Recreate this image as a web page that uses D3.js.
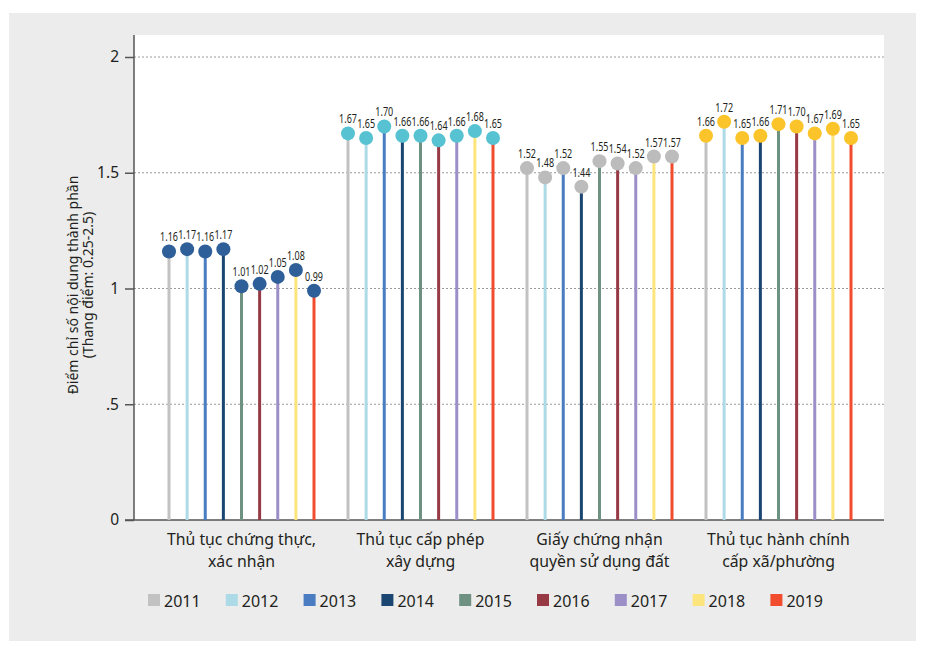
<!DOCTYPE html>
<html><head><meta charset="utf-8">
<script src="https://cdn.jsdelivr.net/npm/d3@7"></script>
<style>
html,body{margin:0;padding:0;background:#fff;}
svg{display:block;}
text{font-family:"Noto Sans","Open Sans",sans-serif;fill:#231f20;}
</style></head>
<body><svg id="c" width="928" height="654"></svg>
<script>
const categories = [
  ["Thủ tục chứng thực,", "xác nhận"],
  ["Thủ tục cấp phép", "xây dựng"],
  ["Giấy chứng nhận", "quyền sử dụng đất"],
  ["Thủ tục hành chính", "cấp xã/phường"]
];
const years = ["2011","2012","2013","2014","2015","2016","2017","2018","2019"];
const values = [
  [1.16,1.17,1.16,1.17,1.01,1.02,1.05,1.08,0.99],
  [1.67,1.65,1.70,1.66,1.66,1.64,1.66,1.68,1.65],
  [1.52,1.48,1.52,1.44,1.55,1.54,1.52,1.57,1.57],
  [1.66,1.72,1.65,1.66,1.71,1.70,1.67,1.69,1.65]
];
const yearColors = ["#c2c2c2","#acdbe7","#4a7cc1","#1c4672","#6e9182","#973a46","#9c8fc8","#fde57d","#f04c2d"];
const dotColors = ["#2f5f98","#57c2d1","#bcbcbc","#fbc42b"];
const yTicks = [0,0.5,1,1.5,2];
const yTickLabels = ["0",".5","1","1.5","2"];
const yTitle = ["Điểm chỉ số nội dung thành phần","(Thang điểm: 0.25-2.5)"];

const svg = d3.select("#c");
const L = 134, R = 884, T = 35, B = 520;

svg.append("rect").attr("x",9).attr("y",13).attr("width",907).attr("height",628).attr("fill","#ececec");
svg.append("rect").attr("x",L).attr("y",T).attr("width",R-L).attr("height",B-T).attr("fill","#fff");

const y = d3.scaleLinear().domain([0,2]).range([B,57]);
const x0 = d3.scaleBand().domain(d3.range(categories.length)).range([152,868]);
const x1 = d3.scalePoint().domain(years).range([-72.5,72.5]);

// grid
svg.append("g").selectAll("line").data(yTicks.filter(d=>d>0)).join("line")
  .attr("x1",L).attr("x2",R).attr("y1",d=>y(d)).attr("y2",d=>y(d))
  .attr("stroke","#9a9a9a").attr("stroke-width",1).attr("stroke-dasharray","2,2");

// y axis
const yAxis = svg.append("g").attr("transform",`translate(${L},0)`)
  .call(d3.axisLeft(y).tickValues(yTicks).tickFormat((d,i)=>yTickLabels[i]).tickSize(9).tickPadding(6));
yAxis.select(".domain").attr("stroke","#555").attr("stroke-width",1.5).attr("d",`M0,${T}V${B}`);
yAxis.selectAll(".tick line").attr("stroke","#555").attr("stroke-width",1.5);
yAxis.selectAll(".tick text").attr("font-size",15.5).attr("fill","#231f20").attr("font-family","Noto Sans");

// x axis line
svg.append("line").attr("x1",125).attr("x2",R).attr("y1",B).attr("y2",B).attr("stroke","#555").attr("stroke-width",1.5);

// groups
const g = svg.append("g").selectAll("g").data(values).join("g")
  .attr("transform",(d,i)=>`translate(${x0(i)+x0.bandwidth()/2},0)`);

g.each(function(vals, gi){
  const gg = d3.select(this);
  const pts = vals.map((v,j)=>({v, yr:years[j], j}));
  gg.selectAll("line.stem").data(pts).join("line").attr("class","stem")
    .attr("x1",d=>x1(d.yr)).attr("x2",d=>x1(d.yr))
    .attr("y1",y(0)).attr("y2",d=>y(d.v))
    .attr("stroke",d=>yearColors[d.j]).attr("stroke-width",3);
  gg.selectAll("circle").data(pts).join("circle")
    .attr("cx",d=>x1(d.yr)).attr("cy",d=>y(d.v)).attr("r",7)
    .attr("fill",dotColors[gi]);
  gg.selectAll("text.val").data(pts).join("text").attr("class","val")
    .attr("transform",d=>`translate(${x1(d.yr)},${y(d.v)-10}) scale(0.72,1)`)
    .attr("text-anchor","middle").attr("font-size",12.5)
    .text(d=>d.v.toFixed(2));
  const lab = gg.append("text").attr("text-anchor","middle").attr("font-size",15.8);
  categories[gi].forEach((line,k)=>{
    lab.append("tspan").attr("x",0).attr("y",545+k*22).text(line);
  });
});

// y title
const yt = svg.append("text").attr("transform","translate(78,285) rotate(-90)")
  .attr("text-anchor","middle").attr("font-size",14);
yTitle.forEach((t,k)=>yt.append("tspan").attr("x",0).attr("y",k*14.5).text(t));

// legend
const leg = svg.append("g").selectAll("g").data(years).join("g")
  .attr("transform",(d,i)=>`translate(${148+i*77.8},594)`);
leg.append("rect").attr("width",12).attr("height",12).attr("fill",(d,i)=>yearColors[i]);
leg.append("text").attr("x",16).attr("y",12.5).attr("font-size",16).text(d=>d);
</script></body></html>
